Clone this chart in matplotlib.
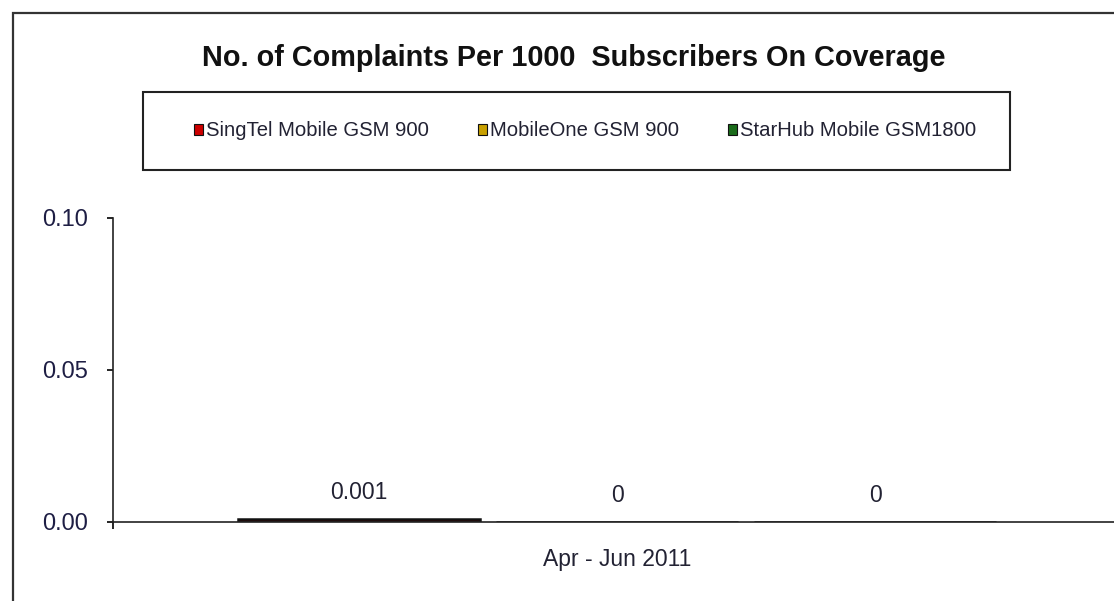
import numpy as np
import matplotlib.pyplot as plt
from matplotlib.patches import Rectangle, Patch

plt.rcParams['font.family'] = ['Liberation Sans', 'DejaVu Sans']

# data
category = "Apr - Jun 2011"
operators = ["SingTel Mobile GSM 900", "MobileOne GSM 900", "StarHub Mobile GSM1800"]
values = [0.001, 0, 0]
value_labels = ["0.001", "0", "0"]
bar_colors = ["#4a0000", "#c8a000", "#1f5a1f"]
legend_colors = ["#cc0000", "#c8a000", "#1a6b1a"]
yticks = [0.00, 0.05, 0.10]

fig = plt.figure(figsize=(11.14, 6.01), dpi=100)

# outer chart border (cropped on right and bottom)
fig.patches.append(Rectangle((13 / 1114, -0.1), 1.2, (601 - 13) / 601 + 0.1,
                             transform=fig.transFigure, fill=False,
                             edgecolor="#333333", linewidth=1.6))

ax = fig.add_axes([113 / 1114, 79 / 601, 1008 / 1114, 304 / 601])
x = np.array([-1, 0, 1])
ax.bar(x, values, width=0.94, color=bar_colors, edgecolor="#111111", linewidth=1.8)

for xi, v, lab in zip(x, values, value_labels):
    ax.annotate(lab, (xi, v), xytext=(0, 11), textcoords="offset points",
                ha="center", va="bottom", fontsize=16.5, color="#222233")

ax.set_xlim(-1.953, 1.953)
ax.set_ylim(0, 0.1)
ax.set_yticks(yticks)
ax.set_yticklabels([f"{t:.2f}" for t in yticks], fontsize=17, color="#1e1e44")
ax.set_xticks([0])
ax.set_xticklabels([category], fontsize=16.5, color="#222233")
ax.set_xticks([-1.953], minor=True)
ax.tick_params(axis="x", which="major", length=0, pad=19)
ax.tick_params(axis="x", which="minor", length=5, direction="out", width=1.2)
ax.tick_params(axis="y", length=4.5, direction="out", width=1.2, pad=13.5)
for s in ["top", "right"]:
    ax.spines[s].set_visible(False)
ax.spines["left"].set_color("#222222")
ax.spines["bottom"].set_color("#222222")
ax.spines["left"].set_linewidth(1.2)
ax.spines["bottom"].set_linewidth(1.2)

fig.text(574 / 1114, 1 - 58 / 601, "No. of Complaints Per 1000  Subscribers On Coverage",
         ha="center", va="center", fontsize=20.8, fontweight="bold", color="#111111")

# legend box
fig.patches.append(Rectangle((143 / 1114, (601 - 170) / 601), 867 / 1114, 78 / 601,
                             transform=fig.transFigure, fill=False,
                             edgecolor="#222222", linewidth=1.5))
handles = [Patch(facecolor=c, edgecolor="#111111", linewidth=0.8) for c in legend_colors]
fig.legend(handles, operators, ncol=3, loc="center", frameon=False,
           bbox_to_anchor=(585 / 1114, 1 - 131 / 601), fontsize=14.6,
           handlelength=0.45, handleheight=0.45, handletextpad=0.15,
           columnspacing=2.4, labelcolor="#222233")

fig.savefig("out.png", dpi=100)
